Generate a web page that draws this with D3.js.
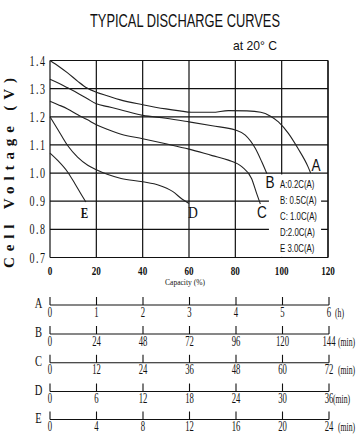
<!DOCTYPE html>
<html><head><meta charset="utf-8">
<script src="https://cdn.jsdelivr.net/npm/d3@7"></script>
<style>body{margin:0;background:#fff}svg{display:block}</style>
</head><body>
<svg id="c" width="364" height="440"></svg>
<script>
// ---- data ----
const xTicks = [0, 20, 40, 60, 80, 100, 120];
const yTicks = [0.7, 0.8, 0.9, 1.0, 1.1, 1.2, 1.3, 1.4];
const yTickLabels = ["0.7", "0.8", "0.9", "1.0", "1.1", "1.2", "1.3", "1.4"];

const capA  = [0, 4, 7.6, 12, 16, 20, 25, 30, 40, 50, 56, 61, 70, 77, 85, 91, 95, 98.6, 102.9, 107, 111.4, 112.5];
const voltA = [1.4, 1.378, 1.356, 1.326, 1.302, 1.287, 1.274, 1.261, 1.243, 1.228, 1.221, 1.216, 1.216, 1.222, 1.221, 1.216, 1.203, 1.182, 1.141, 1.088, 1.022, 1.0];
const capB  = [0, 4, 7.6, 12, 16, 20, 25, 30, 40, 50, 60, 70, 80, 84.3, 88.6, 91.4, 93.6];
const voltB = [1.333, 1.318, 1.303, 1.284, 1.265, 1.246, 1.236, 1.226, 1.205, 1.195, 1.182, 1.168, 1.153, 1.135, 1.088, 1.04, 0.998];
const capC  = [0, 3.5, 7.6, 12, 16, 20, 25, 30.7, 40, 50, 60, 70, 77, 82.9, 87, 89.3, 90.8];
const voltC = [1.255, 1.243, 1.228, 1.207, 1.19, 1.172, 1.155, 1.138, 1.122, 1.104, 1.085, 1.062, 1.046, 1.022, 0.981, 0.925, 0.89];
const capD  = [0, 3.3, 7.6, 11.9, 16.3, 20, 25, 30.7, 40, 47, 52.9, 57.1, 60];
const voltD = [1.2, 1.156, 1.098, 1.057, 1.028, 1.012, 0.995, 0.981, 0.969, 0.957, 0.935, 0.907, 0.892];
const capE  = [0, 3.3, 7.6, 10.7, 13.7, 15.5];
const voltE = [1.071, 1.045, 1.004, 0.963, 0.921, 0.897];

const curveNames = ["A", "B", "C", "D", "E"];
const curveLabelCap  = [114.8, 95, 91.5, 61.7, 14.9];
const curveLabelVolt = [1.007, 0.947, 0.84, 0.84, 0.84];
const legendTexts = ["A:0.2C(A)", "B: 0.5C(A)", "C: 1.0C(A)", "D:2.0C(A)", "E 3.0C(A)"];

const timeRows = ["A", "B", "C", "D", "E"];
const timeTicksA = [0, 1, 2, 3, 4, 5, 6];
const timeTicksB = [0, 24, 48, 72, 96, 120, 144];
const timeTicksC = [0, 12, 24, 36, 48, 60, 72];
const timeTicksD = [0, 6, 12, 18, 24, 30, 36];
const timeTicksE = [0, 4, 8, 12, 16, 20, 24];
const timeUnits = ["(h)", "(min)", "(min)", "(min)", "(min)"];

// ---- layout ----
const svg = d3.select("#c");
const L = 50, R = 328, T = 60.5, B = 257.5;
const x = d3.scaleLinear().domain([0, 120]).range([L, R]);
const y = d3.scaleLinear().domain([0.7, 1.4]).range([B, T]);
const ink = "#111";

function ntext(g, tx, ty, str, size, sx, family, anchor, weight) {
  return g.append("text")
    .attr("transform", `translate(${tx},${ty}) scale(${sx},1)`)
    .attr("text-anchor", anchor || "middle")
    .attr("font-family", family)
    .attr("font-size", size)
    .attr("font-weight", weight || "normal")
    .attr("fill", ink)
    .text(str);
}

// title
svg.append("text").attr("x", 90).attr("y", 26.5)
  .attr("font-family", "Liberation Sans, Arial, sans-serif").attr("font-size", 17.5)
  .attr("textLength", 190).attr("lengthAdjust", "spacingAndGlyphs").attr("fill", ink)
  .text("TYPICAL DISCHARGE CURVES");
svg.append("text").attr("x", 233).attr("y", 50)
  .attr("font-family", "Liberation Sans, Arial, sans-serif").attr("font-size", 13)
  .attr("textLength", 44).attr("lengthAdjust", "spacingAndGlyphs").attr("fill", ink)
  .text("at 20° C");

// grid
const grid = svg.append("g").attr("stroke", ink).attr("stroke-width", 1.2);
grid.selectAll(".h").data(yTicks).join("line")
  .attr("x1", L).attr("x2", R).attr("y1", d => y(d)).attr("y2", d => y(d));
grid.selectAll(".v").data(xTicks).join("line")
  .attr("x1", d => x(d)).attr("x2", d => x(d)).attr("y1", T).attr("y2", B);

// legend box (white) covering the grid in the lower-right corner
svg.append("rect").attr("x", x(94.5)).attr("y", y(0.995))
  .attr("width", x(117) - x(94.5)).attr("height", y(0.7) - y(0.995) - 0.6)
  .attr("fill", "#fff");
svg.append("line").attr("x1", R).attr("x2", R).attr("y1", T).attr("y2", B)
  .attr("stroke", ink).attr("stroke-width", 1.2);

// curves
const caps = [capA, capB, capC, capD, capE];
const volts = [voltA, voltB, voltC, voltD, voltE];
const line = d3.line().x(d => x(d[0])).y(d => y(d[1])).curve(d3.curveMonotoneX);
caps.forEach((c, i) => {
  const pts = c.map((v, j) => [v, volts[i][j]]);
  svg.append("path").attr("d", line(pts)).attr("fill", "none")
    .attr("stroke", "#222").attr("stroke-width", 1.1);
});

// curve labels
curveNames.forEach((n, i) => {
  const serif = i >= 3;
  ntext(svg, x(curveLabelCap[i]), y(curveLabelVolt[i]), n,
    i === 4 ? 14 : 17, 0.8,
    serif ? "Liberation Serif, serif" : "Liberation Sans, sans-serif",
    "middle", i === 4 ? "bold" : "normal");
});

// legend texts
legendTexts.forEach((t, i) => {
  ntext(svg, x(99.3), 188 + i * 16, t, 11.5, 0.68, "Liberation Sans, sans-serif", "start");
});

// y tick labels
yTicks.forEach((v, i) => {
  ntext(svg, 46.5, y(v) + 5, yTickLabels[i], 14, 0.72, "Liberation Serif, serif", "end")
    .attr("letter-spacing", 2);
});
// x tick labels
xTicks.forEach(v => {
  ntext(svg, x(v), 274.5, String(v), 13, 0.7, "Liberation Serif, serif", "middle", "bold");
});
svg.append("text").attr("x", 185).attr("y", 285)
  .attr("text-anchor", "middle").attr("font-family", "Liberation Serif, serif")
  .attr("font-size", 7.5).attr("fill", ink).text("Capacity (%)");

// y title
svg.append("text").attr("transform", `translate(14,173) rotate(-90)`)
  .attr("text-anchor", "middle").attr("font-family", "Liberation Serif, serif")
  .attr("font-weight", "bold").attr("font-size", 15).attr("fill", ink)
  .attr("textLength", 190).attr("lengthAdjust", "spacing")
  .text("Cell Voltage (V)");

// time axes
const timeTicks = [timeTicksA, timeTicksB, timeTicksC, timeTicksD, timeTicksE];
const rowY = [305, 334, 362.8, 391.5, 419.5];
timeRows.forEach((r, i) => {
  const ticks = timeTicks[i];
  const s = d3.scaleLinear().domain([0, ticks[ticks.length - 1]]).range([L, R + 1]);
  const g = svg.append("g");
  g.append("line").attr("x1", s.range()[0]).attr("x2", s.range()[1])
    .attr("y1", rowY[i]).attr("y2", rowY[i]).attr("stroke", ink).attr("stroke-width", 1.1);
  g.selectAll("line.t").data(ticks).join("line").attr("class", "t")
    .attr("x1", d => s(d)).attr("x2", d => s(d))
    .attr("y1", rowY[i] - 8).attr("y2", rowY[i]).attr("stroke", ink).attr("stroke-width", 1.1);
  ticks.forEach(t => {
    ntext(g, s(t), rowY[i] + 11.5, String(t), 14, 0.62, "Liberation Serif, serif", "middle");
  });
  ntext(g, 38.5, rowY[i] + 3, r, 14, 0.75, "Liberation Serif, serif", "middle");
  ntext(g, i === 0 ? 335 : (i === 3 ? 333 : 338), rowY[i] + 11.5, timeUnits[i], 12.5, 0.62,
    "Liberation Serif, serif", "start");
});
</script>
</body></html>
